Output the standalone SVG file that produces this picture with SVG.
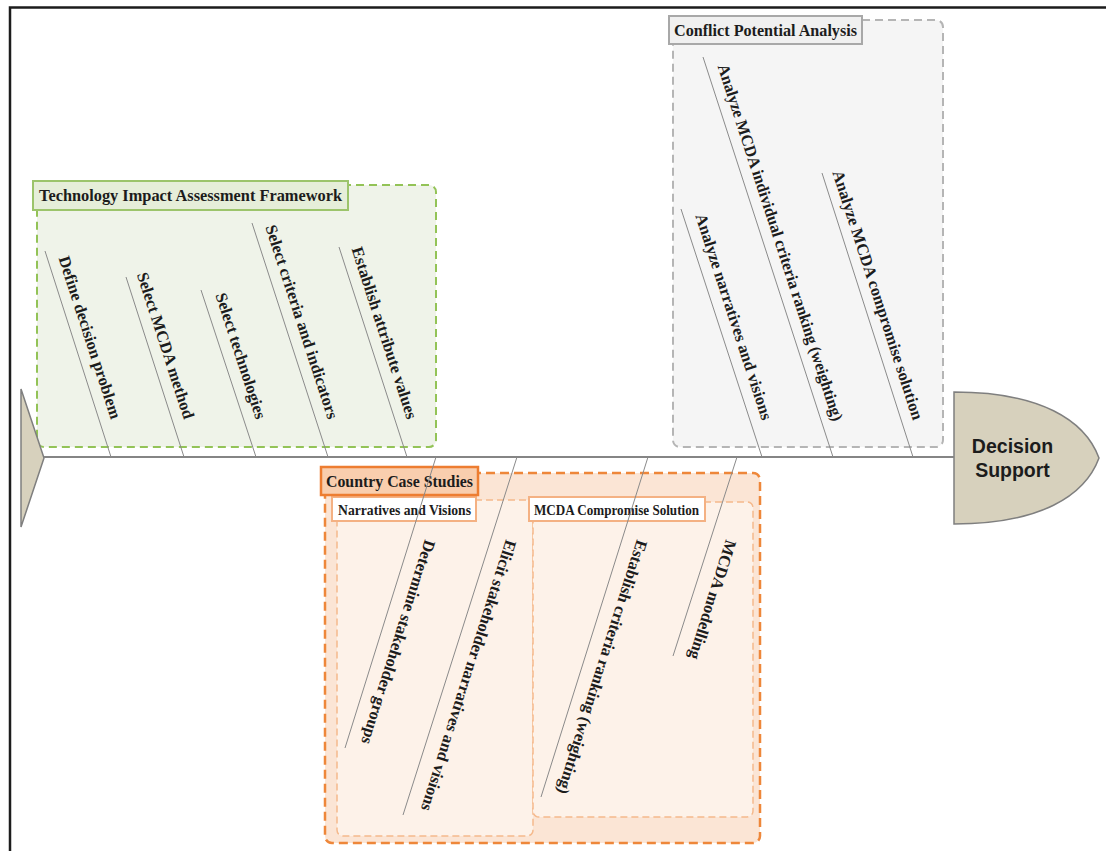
<svg xmlns="http://www.w3.org/2000/svg" width="1106" height="851" viewBox="0 0 1106 851">
<style>
.frame{fill:none;stroke:#1c1c1c;stroke-width:2.5}
.bone{stroke:#8a8a8a;stroke-width:1;fill:none}
.spine{stroke:#858585;stroke-width:2;fill:none}
.lbl{font-family:"Liberation Serif","Times New Roman",serif;font-weight:bold;font-size:16.5px;fill:#1c1c1c}
.ttl{font-family:"Liberation Serif","Times New Roman",serif;font-weight:bold;font-size:16.5px;fill:#1c1c1c}
.sub{font-family:"Liberation Serif","Times New Roman",serif;font-weight:bold;font-size:14px;fill:#1c1c1c}
.head{font-family:"Liberation Sans",Arial,sans-serif;font-weight:bold;font-size:19.5px;fill:#1c1c1c}
.gbox{fill:#eff3e9;stroke:#93c357;stroke-width:2;stroke-dasharray:8 5}
.gtitle{fill:#e6eed9;stroke:#9cc46b;stroke-width:2}
.ybox{fill:#f5f5f5;stroke:#b5b5b5;stroke-width:2;stroke-dasharray:8 5}
.ytitle{fill:#f0f0f0;stroke:#a8a8a8;stroke-width:2}
.obox{fill:#fbe5d5;stroke:#ee873a;stroke-width:2.5;stroke-dasharray:9 5}
.otitle{fill:#f9ceae;stroke:#ed7d31;stroke-width:2.5}
.ibox{fill:#fdf2e9;stroke:#f5b98c;stroke-width:1.5;stroke-dasharray:7 4}
.ititle{fill:#ffffff;stroke:#f4b183;stroke-width:2}
.shape{fill:#d7d1bd;stroke:#7f7f7f;stroke-width:1.5}
</style>
<rect x="0" y="0" width="1106" height="851" fill="#ffffff"/>
<path class="frame" d="M10,851 L10,7.5 L1106,7.5"/>

<g id="tia-framework">
  <rect class="gbox" x="37" y="185" width="399" height="262" rx="7"/>
  <rect class="gtitle" x="33" y="181" width="315" height="29"/>
  <text class="ttl" x="39" y="201" textLength="303" lengthAdjust="spacingAndGlyphs">Technology Impact Assessment Framework</text>
</g>

<g id="conflict-analysis">
  <rect class="ybox" x="673" y="20" width="270" height="427" rx="7"/>
  <rect class="ytitle" x="669" y="16" width="193" height="28"/>
  <text class="ttl" x="674" y="36" textLength="183" lengthAdjust="spacingAndGlyphs">Conflict Potential Analysis</text>
</g>

<g id="country-case-studies">
  <rect class="obox" x="325" y="473" width="435" height="370" rx="7"/>
  <g id="narratives-visions">
    <rect class="ibox" x="337" y="500" width="196" height="336" rx="6"/>
    <rect class="ititle" x="332" y="497" width="144" height="24"/>
    <text class="sub" x="338" y="515" textLength="133" lengthAdjust="spacingAndGlyphs">Narratives and Visions</text>
  </g>
  <g id="mcda-compromise">
    <rect class="ibox" x="533" y="502" width="220" height="315" rx="6"/>
    <rect class="ititle" x="529" y="497" width="176" height="24"/>
    <text class="sub" x="534" y="515" textLength="165" lengthAdjust="spacingAndGlyphs">MCDA Compromise Solution</text>
  </g>
  <rect class="otitle" x="321" y="467" width="157" height="28"/>
  <text class="ttl" x="326" y="486.5" textLength="147" lengthAdjust="spacingAndGlyphs">Country Case Studies</text>
</g>

<g id="tail">
  <polygon class="shape" points="21,389 44,458 21,527"/>
</g>

<g id="decision-support">
  <path class="shape" d="M954,392 C1040,392 1085,420 1099,458 C1085,496 1040,524 954,524 Z"/>
  <text class="head" x="1012.5" y="453" text-anchor="middle">Decision</text>
  <text class="head" x="1012.5" y="476.5" text-anchor="middle">Support</text>
</g>

<g id="connectors">
  <line class="spine" x1="44" y1="457" x2="954" y2="457"/>
  <line class="bone" x1="45" y1="251" x2="111" y2="457"/>
  <line class="bone" x1="126" y1="277" x2="184" y2="457"/>
  <line class="bone" x1="201" y1="290" x2="256" y2="457"/>
  <line class="bone" x1="252" y1="223" x2="328" y2="457"/>
  <line class="bone" x1="339" y1="247" x2="407" y2="457"/>
  <line class="bone" x1="681" y1="209" x2="762" y2="457"/>
  <line class="bone" x1="703" y1="57" x2="833" y2="457"/>
  <line class="bone" x1="822" y1="173" x2="913" y2="457"/>
  <line class="bone" x1="436" y1="457" x2="345" y2="748"/>
  <line class="bone" x1="517" y1="457" x2="403" y2="815"/>
  <line class="bone" x1="648" y1="457" x2="541" y2="797"/>
  <line class="bone" x1="737" y1="457" x2="673" y2="656"/>
</g>

<g id="step-define"><text class="lbl" text-anchor="end" transform="translate(111,420) rotate(72)">Define decision problem</text></g>
<g id="step-mcda-method"><text class="lbl" text-anchor="end" transform="translate(184,420) rotate(72)">Select MCDA method</text></g>
<g id="step-technologies"><text class="lbl" text-anchor="end" transform="translate(256,420) rotate(72)">Select technologies</text></g>
<g id="step-criteria"><text class="lbl" text-anchor="end" transform="translate(328,420) rotate(72)">Select criteria and indicators</text></g>
<g id="step-attributes"><text class="lbl" text-anchor="end" transform="translate(407,420) rotate(72)">Establish attribute values</text></g>

<g id="step-analyze-narratives"><text class="lbl" text-anchor="end" transform="translate(762,421) rotate(72)">Analyze narratives and visions</text></g>
<g id="step-analyze-ranking"><text class="lbl" text-anchor="end" textLength="374" lengthAdjust="spacingAndGlyphs" transform="translate(833,422) rotate(72)">Analyze MCDA individual criteria ranking (weighting)</text></g>
<g id="step-analyze-compromise"><text class="lbl" text-anchor="end" transform="translate(913,421) rotate(72)">Analyze MCDA compromise solution</text></g>

<g id="step-stakeholder-groups"><text class="lbl" transform="translate(425,539) rotate(107.5)">Determine stakeholder groups</text></g>
<g id="step-elicit"><text class="lbl" transform="translate(506,539) rotate(107.5)">Elicit stakeholder narratives and visions</text></g>
<g id="step-ranking"><text class="lbl" transform="translate(637,539) rotate(107.5)">Establish criteria ranking (weighting)</text></g>
<g id="step-modelling"><text class="lbl" transform="translate(726,539) rotate(107.5)">MCDA modelling</text></g>
</svg>
